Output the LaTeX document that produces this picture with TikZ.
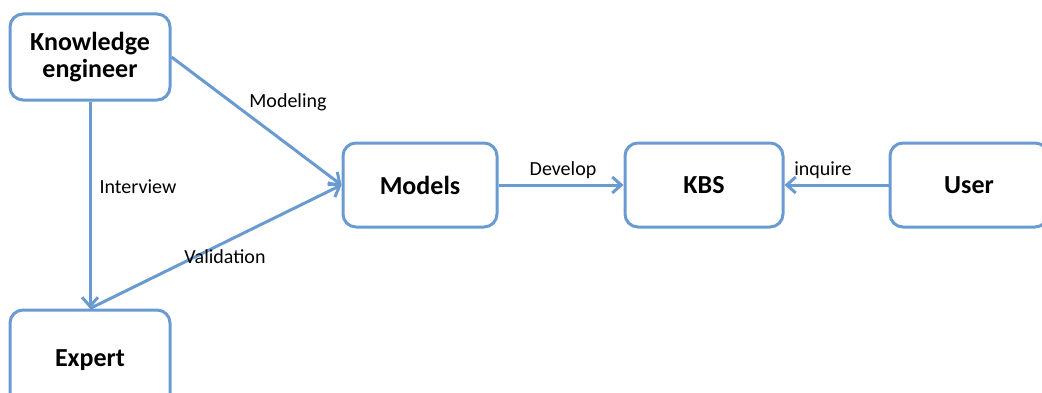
\documentclass[tikz,border=0pt]{standalone}
\usepackage{fontspec}
\setmainfont{Carlito}
\usetikzlibrary{arrows.meta}
\definecolor{lineblue}{RGB}{106,155,208}
\tikzset{
  box/.style={draw=lineblue, line width=3pt, rounded corners=13pt, fill=white,
    align=center, inner sep=0pt, font=\fontsize{26}{30}\selectfont\bfseries},
  conn/.style={draw=lineblue, line width=3pt,
    -{Straight Barb[length=9pt,width=16pt,line width=3pt]}},
  lbl/.style={font=\fontsize{20}{24}\selectfont, inner sep=0pt}
}
\begin{document}
\begin{tikzpicture}[x=1pt,y=1pt]
\useasboundingbox (0,0) rectangle (1042,392);
\clip (0,0) rectangle (1042,392);
\node[box, minimum width=160pt, minimum height=86pt] (ke) at (90,335) {Knowledge\\[-3pt]engineer};
\node[box, minimum width=160pt, minimum height=104pt] (ex) at (90,30) {\raisebox{7pt}{Expert}};
\node[box, minimum width=154pt, minimum height=84pt] (mo) at (420,207) {Models};
\node[box, minimum width=158pt, minimum height=84pt] (kbs) at (704,207) {KBS};
\node[box, minimum width=158pt, minimum height=84pt] (us) at (969,207) {User};
\coordinate (mw) at (mo.west);
\draw[conn] (ke.south) -- (ex.north);
\draw[conn] (ke.east) -- (mw);
\draw[conn] (ex.north) -- (mw);
\draw[conn] (mo.east) -- (kbs.west);
\draw[conn] (us.west) -- (kbs.east);
\node[lbl] (lmod) at (288,290) {Modeling};
\node[lbl] (lint) at (138,205) {Interview};
\node[lbl] (lval) at (225,135) {Validation};
\node[lbl] (ldev) at (563,222) {Develop};
\node[lbl] (linq) at (823,222) {inquire};
\end{tikzpicture}
\end{document}
